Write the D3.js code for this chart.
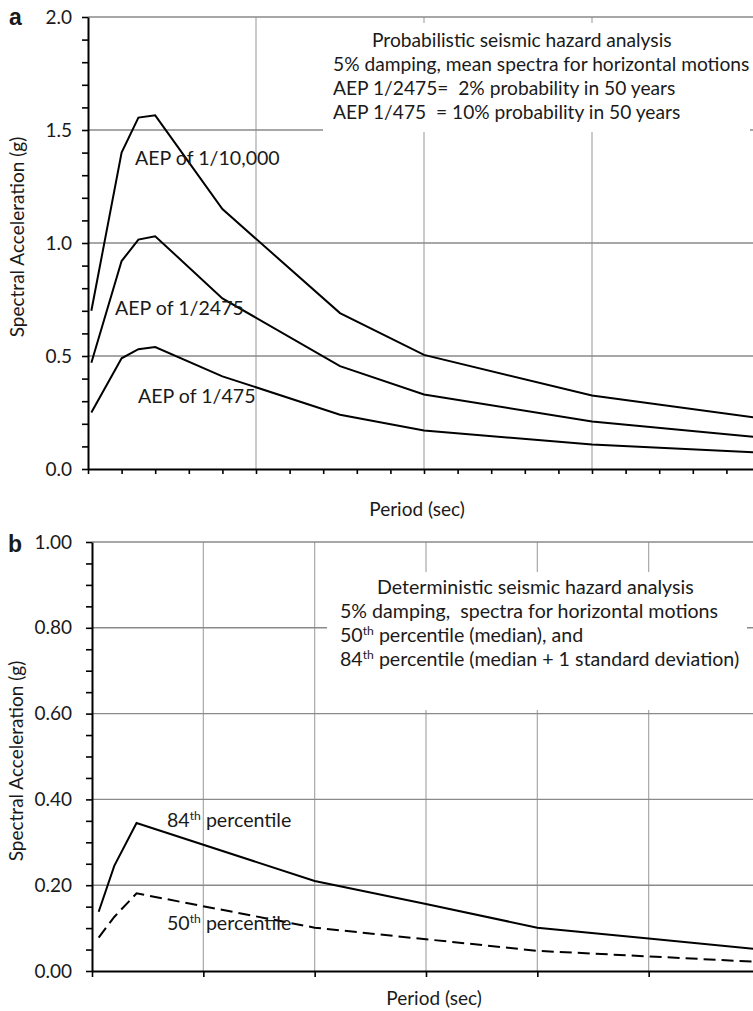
<!DOCTYPE html>
<html>
<head>
<meta charset="utf-8">
<script src="https://cdn.jsdelivr.net/npm/d3@7"></script>
<style>
  body { margin: 0; background: #fff; }
  svg text { font-family: Lato, "Open Sans", sans-serif; fill: #1a1a1a; }
</style>
</head>
<body>
<div id="chart"></div>
<script>
// ---- panel a: probabilistic (PSHA) spectra ----
const periodsA = [0.01, 0.1, 0.15, 0.2, 0.4, 0.75, 1.0, 1.5, 2.0];
const aep10000 = [0.70, 1.40, 1.555, 1.565, 1.15, 0.69, 0.505, 0.325, 0.225];
const aep2475 = [0.47, 0.92, 1.015, 1.03, 0.755, 0.455, 0.33, 0.21, 0.14];
const aep475 = [0.25, 0.49, 0.53, 0.54, 0.41, 0.24, 0.17, 0.108, 0.073];
const yMajorA = [0, 0.5, 1.0, 1.5, 2.0];
const yLabelsA = ["0.0", "0.5", "1.0", "1.5", "2.0"];
const xMajorA = [0.5, 1.0, 1.5];
const notesA = [
  "Probabilistic seismic hazard analysis",
  "5% damping, mean spectra for horizontal motions",
  "AEP 1/2475=  2% probability in 50 years",
  "AEP 1/475  = 10% probability in 50 years"
];

// ---- panel b: deterministic (DSHA) spectra ----
const periodsB = [0.03, 0.1, 0.2, 1.0, 1.5, 2.0, 2.5, 3.0];
const p84 = [0.138, 0.245, 0.345, 0.21, 0.156, 0.101, 0.076, 0.05];
const p50 = [0.078, 0.126, 0.181, 0.101, 0.074, 0.047, 0.034, 0.021];
const yMajorB = [0, 0.2, 0.4, 0.6, 0.8, 1.0];
const yLabelsB = ["0.00", "0.20", "0.40", "0.60", "0.80", "1.00"];
const xMajorB = [0.5, 1.0, 1.5, 2.0, 2.5];
const notesB = [
  [{ t: "Deterministic seismic hazard analysis" }],
  [{ t: "5% damping,  spectra for horizontal motions" }],
  [{ t: "50" }, { t: "th", sup: true }, { t: " percentile (median), and" }],
  [{ t: "84" }, { t: "th", sup: true }, { t: " percentile (median + 1 standard deviation)" }]
];

const FS = 19;        // ticks and axis titles
const FS_NOTE_A = 19.2; // panel a notes (line 2 runs up to the right edge)
const FS_NOTE = 19.6;   // panel b notes and curve labels
const svg = d3.select("#chart").append("svg")
  .attr("width", 753).attr("height", 1011);

function labelFor(majors, labels) {
  return d => {
    const i = majors.findIndex(v => Math.abs(v - d) < 1e-9);
    return i >= 0 ? labels[i] : "";
  };
}

function styleAxis(g) {
  g.attr("font-size", null).attr("font-family", null);
  g.select(".domain").attr("stroke", "#000").attr("stroke-width", 2);
  g.selectAll(".tick line").attr("stroke", "#000").attr("stroke-width", 1.6);
  g.selectAll(".tick text").style("font-size", FS + "px").attr("fill", "#1a1a1a");
}

function drawPanel(x, y, hLines, vLines, box) {
  const [x0, x1] = x.domain();
  const [y0, y1] = y.domain();
  svg.append("g").selectAll("line").data(vLines).join("line")
    .attr("x1", d => x(d)).attr("x2", d => x(d))
    .attr("y1", y(y0)).attr("y2", y(y1))
    .attr("stroke", "#a8a8a8").attr("stroke-width", 1.2);
  svg.append("g").selectAll("line").data(hLines).join("line")
    .attr("x1", x(x0)).attr("x2", x(x1))
    .attr("y1", d => y(d)).attr("y2", d => y(d))
    .attr("stroke", "#8a8a8a").attr("stroke-width", 1.4);
  // white note box hides the grid behind it
  svg.append("rect")
    .attr("x", box[0]).attr("y", box[1])
    .attr("width", box[2] - box[0]).attr("height", box[3] - box[1])
    .attr("fill", "#fff");
}

function drawCurve(x, y, periods, values, dash) {
  svg.append("path")
    .datum(values)
    .attr("fill", "none")
    .attr("stroke", "#000")
    .attr("stroke-width", 2)
    .attr("stroke-dasharray", dash || null)
    .attr("d", d3.line().x((d, i) => x(periods[i])).y(d => y(d)));
}

// ================= panel a =================
const xA = d3.scaleLinear().domain([0, 2]).range([88, 760]);
const yA = d3.scaleLinear().domain([0, 2]).range([469, 17]);

drawPanel(xA, yA, yMajorA.slice(1), xMajorA, [323, 23, 750, 132]);

svg.append("g")
  .attr("transform", `translate(0,${yA(0)})`)
  .call(d3.axisBottom(xA).tickValues(d3.range(0, 21).map(i => i / 10))
    .tickSize(5).tickSizeOuter(0).tickFormat(""))
  .call(styleAxis);

svg.append("g")
  .attr("transform", `translate(${xA(0)},0)`)
  .call(d3.axisLeft(yA).tickValues(d3.range(0, 21).map(i => i / 10))
    .tickSize(6).tickSizeOuter(0).tickPadding(10)
    .tickFormat(labelFor(yMajorA, yLabelsA)))
  .call(styleAxis);

drawCurve(xA, yA, periodsA, aep10000);
drawCurve(xA, yA, periodsA, aep2475);
drawCurve(xA, yA, periodsA, aep475);

svg.append("g").selectAll("text").data(notesA).join("text")
  .attr("x", (d, i) => i === 0 ? 372 : 333)
  .attr("y", (d, i) => 47 + i * 24)
  .style("font-size", FS_NOTE_A + "px")
  .style("white-space", "pre")
  .text(d => d);

const curveLabelsA = [
  { t: "AEP of 1/10,000", x: 135, y: 165 },
  { t: "AEP of 1/2475", x: 115, y: 315 },
  { t: "AEP of 1/475", x: 138, y: 403 }
];
svg.append("g").selectAll("text").data(curveLabelsA).join("text")
  .attr("x", d => d.x).attr("y", d => d.y)
  .style("font-size", FS_NOTE + "px")
  .text(d => d.t);

svg.append("text")
  .attr("transform", "translate(24,237) rotate(-90)")
  .attr("text-anchor", "middle")
  .style("font-size", FS + "px")
  .text("Spectral Acceleration (g)");

svg.append("text")
  .attr("x", 417).attr("y", 516)
  .attr("text-anchor", "middle")
  .style("font-size", FS + "px")
  .text("Period (sec)");

svg.append("text")
  .attr("x", 9).attr("y", 25)
  .style("font-family", "'Liberation Sans', Arial, sans-serif")
  .style("font-weight", "bold")
  .style("font-size", "23px")
  .text("a");

// ================= panel b =================
const xB = d3.scaleLinear().domain([0, 3]).range([92, 760]);
const yB = d3.scaleLinear().domain([0, 1]).range([971, 542]);

drawPanel(xB, yB, yMajorB.slice(1), xMajorB, [327, 572, 747, 710]);

svg.append("g")
  .attr("transform", `translate(0,${yB(0)})`)
  .call(d3.axisBottom(xB).tickValues(d3.range(0, 7).map(i => i / 2))
    .tickSize(6).tickSizeOuter(0).tickFormat(""))
  .call(styleAxis);

svg.append("g")
  .attr("transform", `translate(${xB(0)},0)`)
  .call(d3.axisLeft(yB).tickValues(d3.range(0, 21).map(i => i / 20))
    .tickSize(6).tickSizeOuter(0).tickPadding(14)
    .tickFormat(labelFor(yMajorB, yLabelsB)))
  .call(styleAxis);

drawCurve(xB, yB, periodsB, p84);
drawCurve(xB, yB, periodsB, p50, "12,6");

const noteB = svg.append("g").selectAll("text").data(notesB).join("text")
  .attr("x", (d, i) => i === 0 ? 377 : 340)
  .attr("y", (d, i) => 594 + i * 24)
  .style("font-size", FS_NOTE + "px")
  .style("white-space", "pre");
noteB.selectAll("tspan").data(d => d).join("tspan")
  .style("font-size", d => d.sup ? "0.62em" : null)
  .attr("baseline-shift", d => d.sup ? "60%" : null)
  .text(d => d.t);

const curveLabelsB = [
  [{ t: "84" }, { t: "th", sup: true }, { t: " percentile" }],
  [{ t: "50" }, { t: "th", sup: true }, { t: " percentile" }]
];
const curveLabelPosB = [[167, 827], [167, 930]];
const clb = svg.append("g").selectAll("text").data(curveLabelsB).join("text")
  .attr("x", (d, i) => curveLabelPosB[i][0])
  .attr("y", (d, i) => curveLabelPosB[i][1])
  .style("font-size", FS_NOTE + "px")
  .style("white-space", "pre");
clb.selectAll("tspan").data(d => d).join("tspan")
  .style("font-size", d => d.sup ? "0.62em" : null)
  .attr("baseline-shift", d => d.sup ? "60%" : null)
  .text(d => d.t);

svg.append("text")
  .attr("transform", "translate(23,761) rotate(-90)")
  .attr("text-anchor", "middle")
  .style("font-size", FS + "px")
  .text("Spectral Acceleration (g)");

svg.append("text")
  .attr("x", 434).attr("y", 1005)
  .attr("text-anchor", "middle")
  .style("font-size", FS + "px")
  .text("Period (sec)");

svg.append("text")
  .attr("x", 8).attr("y", 552)
  .style("font-family", "'Liberation Sans', Arial, sans-serif")
  .style("font-weight", "bold")
  .style("font-size", "23px")
  .text("b");
</script>
</body>
</html>
